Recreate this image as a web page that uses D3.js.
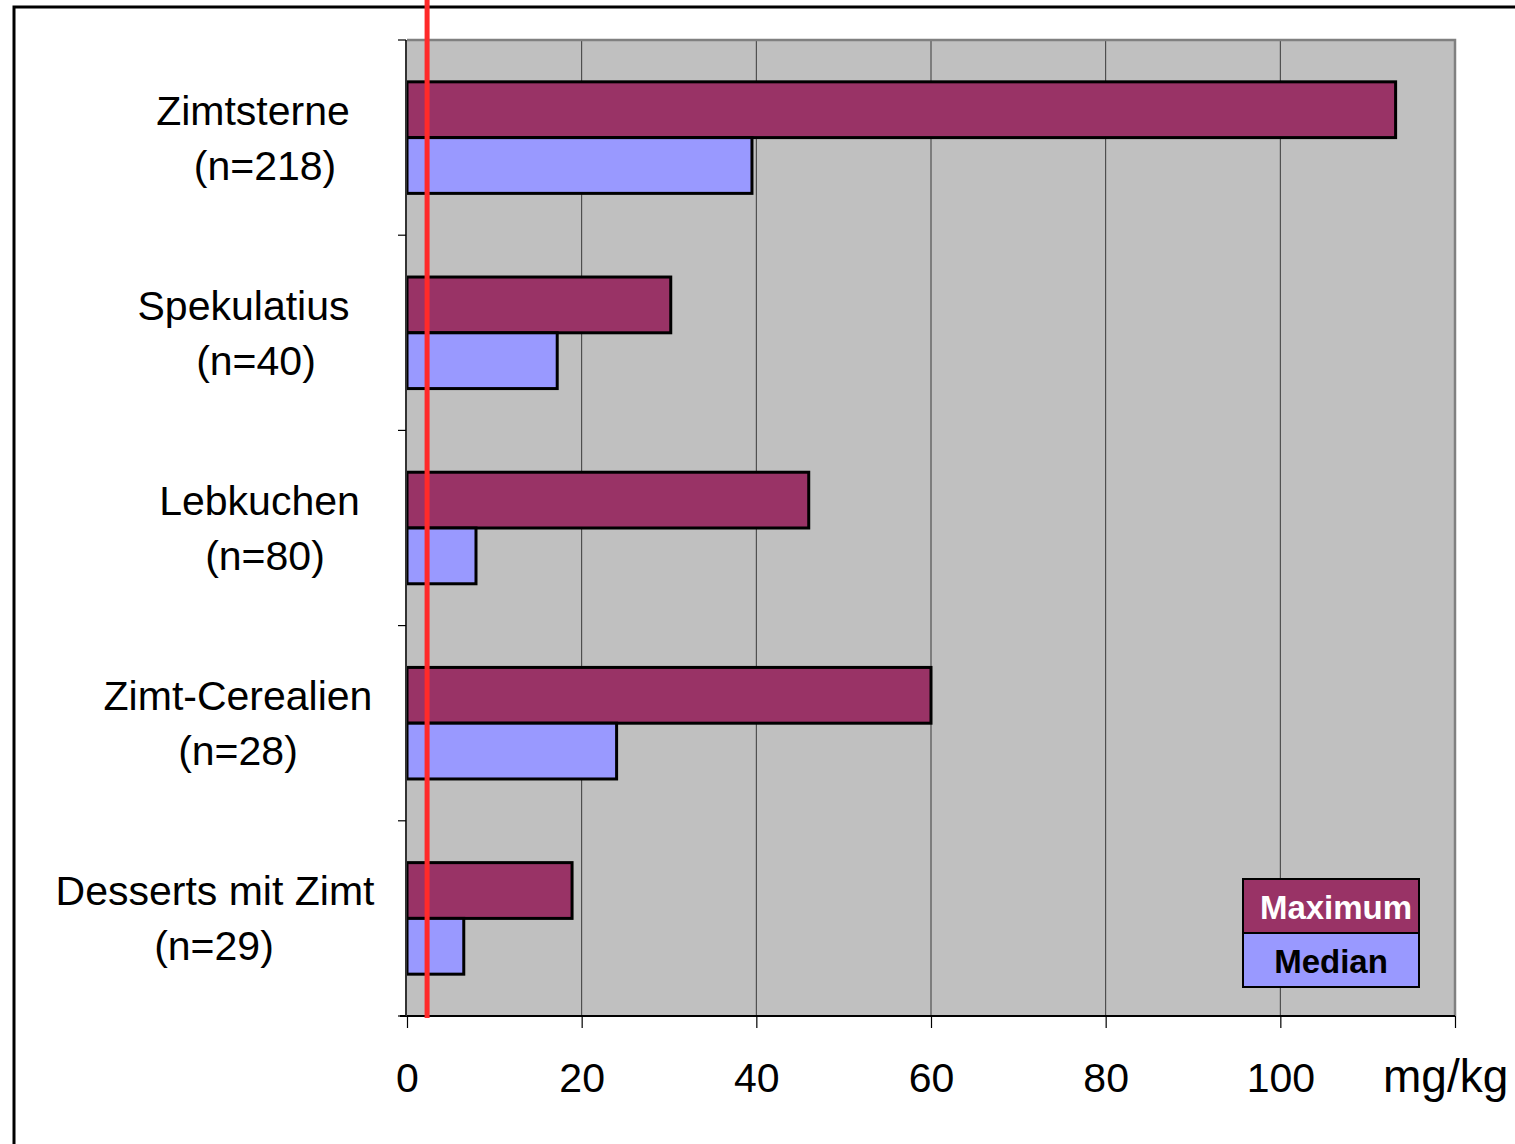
<!DOCTYPE html>
<html><head><meta charset="utf-8">
<script src="https://cdn.jsdelivr.net/npm/d3@7"></script>
<style>
html,body{margin:0;padding:0;background:#fff;}
svg{display:block;font-family:"Liberation Sans",Arial,sans-serif;}
</style></head>
<body>
<svg id="chart" width="1515" height="1144"></svg>
<script>
// ---- data ----
const categories = ["Zimtsterne", "Spekulatius", "Lebkuchen", "Zimt-Cerealien", "Desserts mit Zimt"];
const sampleSizes = ["(n=218)", "(n=40)", "(n=80)", "(n=28)", "(n=29)"];
const seriesNames = ["Maximum", "Median"];
const maximumValues = [113.2, 30.2, 46.0, 60.0, 18.9];
const medianValues = [39.5, 17.2, 7.9, 24.0, 6.5];
const referenceValue = 2.3;
const xTicks = [0, 20, 40, 60, 80, 100];
const unitLabel = "mg/kg";

// ---- layout (not data) ----
const plot = {left: 407, right: 1455, top: 40, bottom: 1016};
const colors = {Maximum: "#993366", Median: "#9999ff"};
const labelCenters = [[253, 265], [243.5, 256], [259.5, 265], [238, 238], [215, 214]]; // text centre per line

const svg = d3.select("#chart");

// outer frame
svg.append("rect").attr("x", 14).attr("y", 7).attr("width", 1560).attr("height", 1200)
  .attr("fill", "none").attr("stroke", "#000").attr("stroke-width", 3);

const x = d3.scaleLinear().domain([0, 120]).range([plot.left, plot.right]);
const y = d3.scaleBand().domain(categories).range([plot.top, plot.bottom]);
const ySub = d3.scaleBand().domain(seriesNames).range([0, y.bandwidth()]).paddingOuter(0.75).paddingInner(0);

// plot background
svg.append("rect").attr("x", plot.left).attr("y", plot.top)
  .attr("width", plot.right - plot.left).attr("height", plot.bottom - plot.top)
  .attr("fill", "#c0c0c0");

// gridlines
svg.append("g").selectAll("line").data(xTicks.filter(d => d > 0)).join("line")
  .attr("x1", d => x(d)).attr("x2", d => x(d))
  .attr("y1", plot.top).attr("y2", plot.bottom)
  .attr("stroke", "#3a3a3a").attr("stroke-width", 1);

// plot border top/right
svg.append("path")
  .attr("d", `M${plot.left},${plot.top}H${plot.right}V${plot.bottom}`)
  .attr("fill", "none").attr("stroke", "#808080").attr("stroke-width", 2.5);

// bars
const rows = categories.map((c, i) => ({cat: c, Maximum: maximumValues[i], Median: medianValues[i]}));
const groups = svg.append("g").selectAll("g").data(rows).join("g")
  .attr("transform", d => `translate(0,${y(d.cat)})`);
groups.selectAll("rect").data(d => seriesNames.map(s => ({s, v: d[s]}))).join("rect")
  .attr("x", x(0)).attr("y", d => ySub(d.s))
  .attr("width", d => x(d.v) - x(0)).attr("height", ySub.bandwidth())
  .attr("fill", d => colors[d.s]).attr("stroke", "#000").attr("stroke-width", 3);

// x axis
const xAxis = svg.append("g").attr("transform", `translate(0,${plot.bottom})`)
  .call(d3.axisBottom(x).tickValues([...xTicks, 120]).tickSize(12).tickFormat(d => d === 120 ? "" : d));
xAxis.select(".domain").attr("stroke", "#000").attr("stroke-width", 2).attr("d", `M${plot.left - 7},0H${plot.right}`);
xAxis.selectAll(".tick line").attr("stroke", "#000").attr("stroke-width", 1.2);
xAxis.selectAll(".tick text").attr("font-size", 41).attr("fill", "#000")
  .attr("font-family", "Liberation Sans, Arial, sans-serif").attr("y", 0).attr("dy", 76);

svg.append("text").attr("x", 1383).attr("y", 1092).attr("font-size", 46).attr("fill", "#000").text(unitLabel);

// y axis
const yAxis = svg.append("g").attr("transform", `translate(${plot.left - 1},0)`);
yAxis.append("line").attr("x1", 0).attr("x2", 0).attr("y1", plot.top).attr("y2", plot.bottom)
  .attr("stroke", "#333").attr("stroke-width", 2);
const bounds = categories.map(c => y(c)).concat([plot.bottom]);
yAxis.selectAll("line.tk").data(bounds).join("line").attr("class", "tk")
  .attr("x1", -8).attr("x2", 0).attr("y1", d => d).attr("y2", d => d)
  .attr("stroke", "#000").attr("stroke-width", 1.2);

// category labels
const labelG = svg.append("g");
categories.forEach((c, i) => {
  const cy = y(c) + y.bandwidth() / 2;
  labelG.append("text").attr("font-size", 41).attr("fill", "#000").attr("text-anchor", "middle")
    .attr("x", labelCenters[i][0]).attr("y", cy - 13).text(c);
  labelG.append("text").attr("font-size", 41).attr("fill", "#000").attr("text-anchor", "middle")
    .attr("x", labelCenters[i][1]).attr("y", cy + 42).text(sampleSizes[i]);
});

// legend
const leg = svg.append("g").attr("transform", "translate(1243,879)");
seriesNames.forEach((s, i) => {
  leg.append("rect").attr("x", 0).attr("y", i * 54).attr("width", 176).attr("height", 54)
    .attr("fill", colors[s]).attr("stroke", "#000").attr("stroke-width", 2);
  leg.append("text").attr("x", i === 0 ? 93 : 88).attr("y", i * 54 + 40)
    .attr("text-anchor", "middle").attr("font-size", 33).attr("font-weight", "bold")
    .attr("fill", i === 0 ? "#fff" : "#000").text(s);
});

// reference line
svg.append("line").attr("x1", x(referenceValue)).attr("x2", x(referenceValue))
  .attr("y1", 0).attr("y2", plot.bottom + 2)
  .attr("stroke", "#ff2a2a").attr("stroke-width", 5);
</script>
</body></html>
